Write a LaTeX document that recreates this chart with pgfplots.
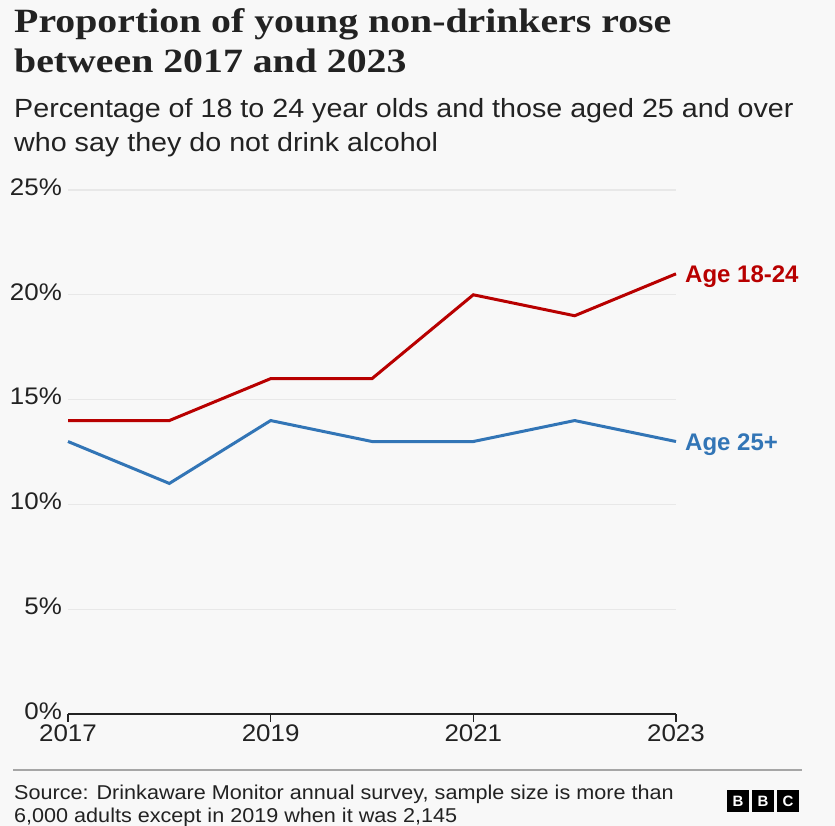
\documentclass[border=0pt]{standalone}
\usepackage{fontspec}
\setmainfont{Liberation Sans}
\newfontfamily\regfont[FakeStretch=1.08]{Liberation Sans}
\newfontfamily\subfont[FakeStretch=1.09]{Liberation Sans}
\newfontfamily\titlefont[FakeStretch=1.17]{Liberation Serif}
\usepackage{pgfplots}
\pgfplotsset{compat=1.18}
\definecolor{bg}{HTML}{F8F8F8}
\definecolor{ink}{HTML}{222222}
\definecolor{bbcred}{HTML}{B80000}
\definecolor{bbcblue}{RGB}{50,117,182}
\definecolor{gridc}{HTML}{E8E8E8}
\begin{document}
\begin{tikzpicture}[x=1pt,y=1pt]
\useasboundingbox (0,0) rectangle (835,826);
\fill[bg] (0,0) rectangle (835,826);
% titles
\node[anchor=base west, inner sep=0pt, text=ink, font=\titlefont\bfseries\fontsize{34}{40}\selectfont] at (14,793) {Proportion of young non-drinkers rose};
\node[anchor=base west, inner sep=0pt, text=ink, font=\titlefont\bfseries\fontsize{34}{40}\selectfont] at (14,753) {between 2017 and 2023};
\node[anchor=base west, inner sep=0pt, text=ink, font=\subfont\fontsize{26.3}{34}\selectfont] at (14,708) {Percentage of 18 to 24 year olds and those aged 25 and over};
\node[anchor=base west, inner sep=0pt, text=ink, font=\subfont\fontsize{26.3}{34}\selectfont] at (14,674) {who say they do not drink alcohol};
\begin{axis}[
  at={(68pt,112pt)}, anchor=south west,
  scale only axis, width=608pt, height=524pt,
  xmin=2017, xmax=2023, ymin=0, ymax=25,
  separate axis lines,
  axis x line*=bottom, axis y line*=left,
  y axis line style={draw=none},
  x axis line style={line width=2pt, color=ink, -},
  xtick={2017,2019,2021,2023},
  ytick={0,5,10,15,20,25},
  ytick style={draw=none},
  xtick style={line width=1.5pt, color=ink},
  tick align=outside, major tick length=8pt,
  ymajorgrids, grid style={color=gridc, line width=1.2pt},
  /pgf/number format/assume math mode=true,
  /pgf/number format/set thousands separator={},
  xticklabel style={font=\regfont\fontsize{24}{28}\selectfont, text=ink, inner sep=0pt, anchor=north, yshift=-3pt},
  yticklabel style={font=\regfont\fontsize{24}{28}\selectfont, text=ink, inner sep=0pt, anchor=east, xshift=2pt, yshift=3pt},
  yticklabel={\pgfmathprintnumber{\tick}\%},
  clip=false,
]
\addplot[color=bbcred, line width=3pt] coordinates {(2017,14) (2018,14) (2019,16) (2020,16) (2021,20) (2022,19) (2023,21)};
\addplot[color=bbcblue, line width=3pt] coordinates {(2017,13) (2018,11) (2019,14) (2020,13) (2021,13) (2022,14) (2023,13)};
\node[anchor=base west, inner sep=0pt, xshift=9pt, yshift=-9pt, text=bbcred, font=\bfseries\fontsize{24}{28}\selectfont] at (axis cs:2023,21) {Age 18-24};
\node[anchor=base west, inner sep=0pt, xshift=9pt, yshift=-9pt, text=bbcblue, font=\bfseries\fontsize{24}{28}\selectfont] at (axis cs:2023,13) {Age 25+};
\end{axis}
% footer
\draw[color=gray!70, line width=1.2pt] (13,56) -- (802,56);
\node[anchor=base west, inner sep=0pt, text=ink, font=\regfont\fontsize{20}{23}\selectfont] at (14,26) {Source: Drinkaware Monitor annual survey, sample size is more than};
\node[anchor=base west, inner sep=0pt, text=ink, font=\regfont\fontsize{20}{23}\selectfont] at (14,3) {6,000 adults except in 2019 when it was 2,145};
\foreach \i/\l in {0/B,1/B,2/C} {
  \fill[black] ({727+\i*25},14) rectangle ({749+\i*25},36);
  \node[text=white, font=\bfseries\fontsize{15}{15}\selectfont, inner sep=0pt] at ({738+\i*25},25) {\l};
}
\end{tikzpicture}
\end{document}
